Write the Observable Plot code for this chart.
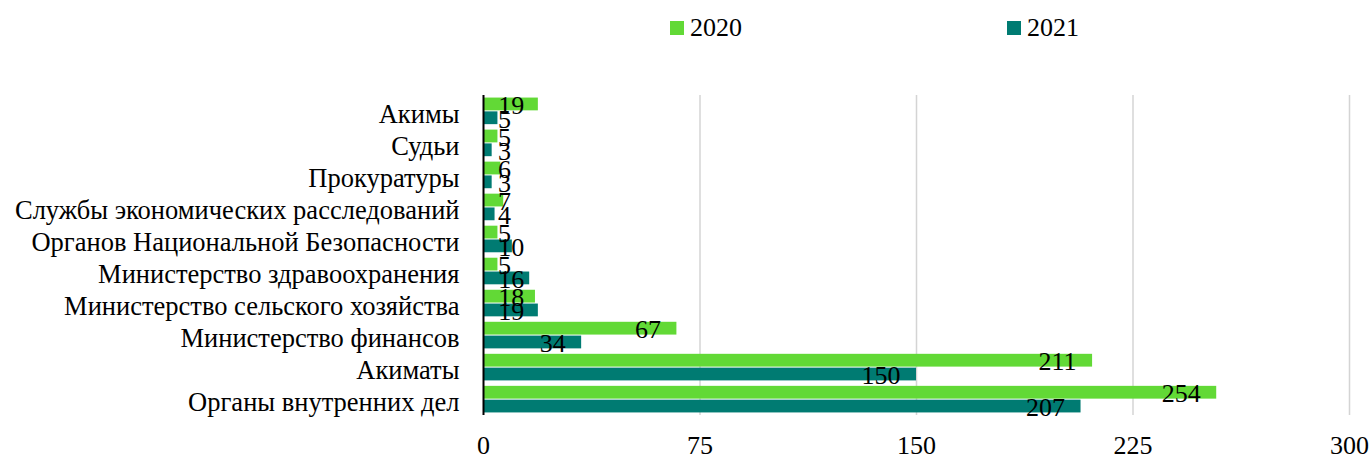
<!DOCTYPE html>
<html>
<head>
<meta charset="utf-8">
<script src="https://cdn.jsdelivr.net/npm/d3@7"></script>
<script src="https://cdn.jsdelivr.net/npm/@observablehq/plot@0.6"></script>
<style>
  html, body { margin: 0; padding: 0; background: #fff; }
  body { width: 1370px; height: 457px; overflow: hidden; font-family: "Liberation Serif", "Times New Roman", serif; }
  #legend { position: relative; height: 60px; width: 1370px; }
  .item { position: absolute; top: 13px; display: flex; align-items: center; font-size: 26px; color: #000; line-height: 30px; }
  .sw { width: 14px; height: 14px; margin-right: 6px; }
</style>
</head>
<body>
<div id="legend"></div>
<div id="chart"></div>
<script>
const categories = [
  "Акимы",
  "Судьи",
  "Прокуратуры",
  "Службы экономических расследований",
  "Органов Национальной Безопасности",
  "Министерство здравоохранения",
  "Министерство сельского хозяйства",
  "Министерство финансов",
  "Акиматы",
  "Органы внутренних дел"
];
const values2020 = [19, 5, 6, 7, 5, 5, 18, 67, 211, 254];
const values2021 = [5, 3, 3, 4, 10, 16, 19, 34, 150, 207];
const seriesNames = ["2020", "2021"];
const seriesColors = ["#62d936", "#007b72"];
const xTicks = [0, 75, 150, 225, 300];

const data2020 = categories.map((c, i) => ({category: c, value: values2020[i]}));
const data2021 = categories.map((c, i) => ({category: c, value: values2021[i]}));

// legend
const legend = document.getElementById("legend");
const legendLeft = [670, 1007];
seriesNames.forEach((s, i) => {
  const it = document.createElement("div");
  it.className = "item";
  it.style.left = legendLeft[i] + "px";
  it.innerHTML = `<span class="sw" style="background:${seriesColors[i]}"></span><span>${s}</span>`;
  legend.appendChild(it);
});

const labelX = d => Math.max(d.value, 10.5 + 4.6 * String(d.value).length);
const font = "'Liberation Serif', 'Times New Roman', serif";

const chart = Plot.plot({
  width: 1370,
  height: 397,
  marginTop: 35,
  marginBottom: 42,
  marginLeft: 483,
  marginRight: 21,
  style: {fontFamily: font, fontSize: "26px", color: "#000", background: "#fff"},
  x: {domain: [0, 300], ticks: xTicks, label: null},
  y: {domain: categories, paddingInner: 0.17, paddingOuter: 0.08, round: false, label: null},
  marks: [
    Plot.ruleX(xTicks.filter(t => t > 0), {stroke: "#d4d4d4", strokeWidth: 1.5}),
    Plot.barX(data2020, {y: "category", x: "value", fill: seriesColors[0], insetBottom: 13.8}),
    Plot.barX(data2021, {y: "category", x: "value", fill: seriesColors[1], insetTop: 13.8}),
    Plot.ruleX([0], {stroke: "#000", strokeWidth: 2}),
    Plot.text(data2020, {y: "category", x: labelX, text: d => String(d.value), textAnchor: "end", dx: -16, dy: -6, fontSize: 26, fill: "#000"}),
    Plot.text(data2021, {y: "category", x: labelX, text: d => String(d.value), textAnchor: "end", dx: -16, dy: 8, fontSize: 26, fill: "#000"}),
    Plot.axisX({ticks: xTicks, tickSize: 0, tickPadding: 20, fontSize: 26, label: null}),
    Plot.axisY({tickSize: 0, tickPadding: 24, fontSize: 26.5, dy: 3, label: null})
  ]
});
document.getElementById("chart").appendChild(chart);
</script>
</body>
</html>
